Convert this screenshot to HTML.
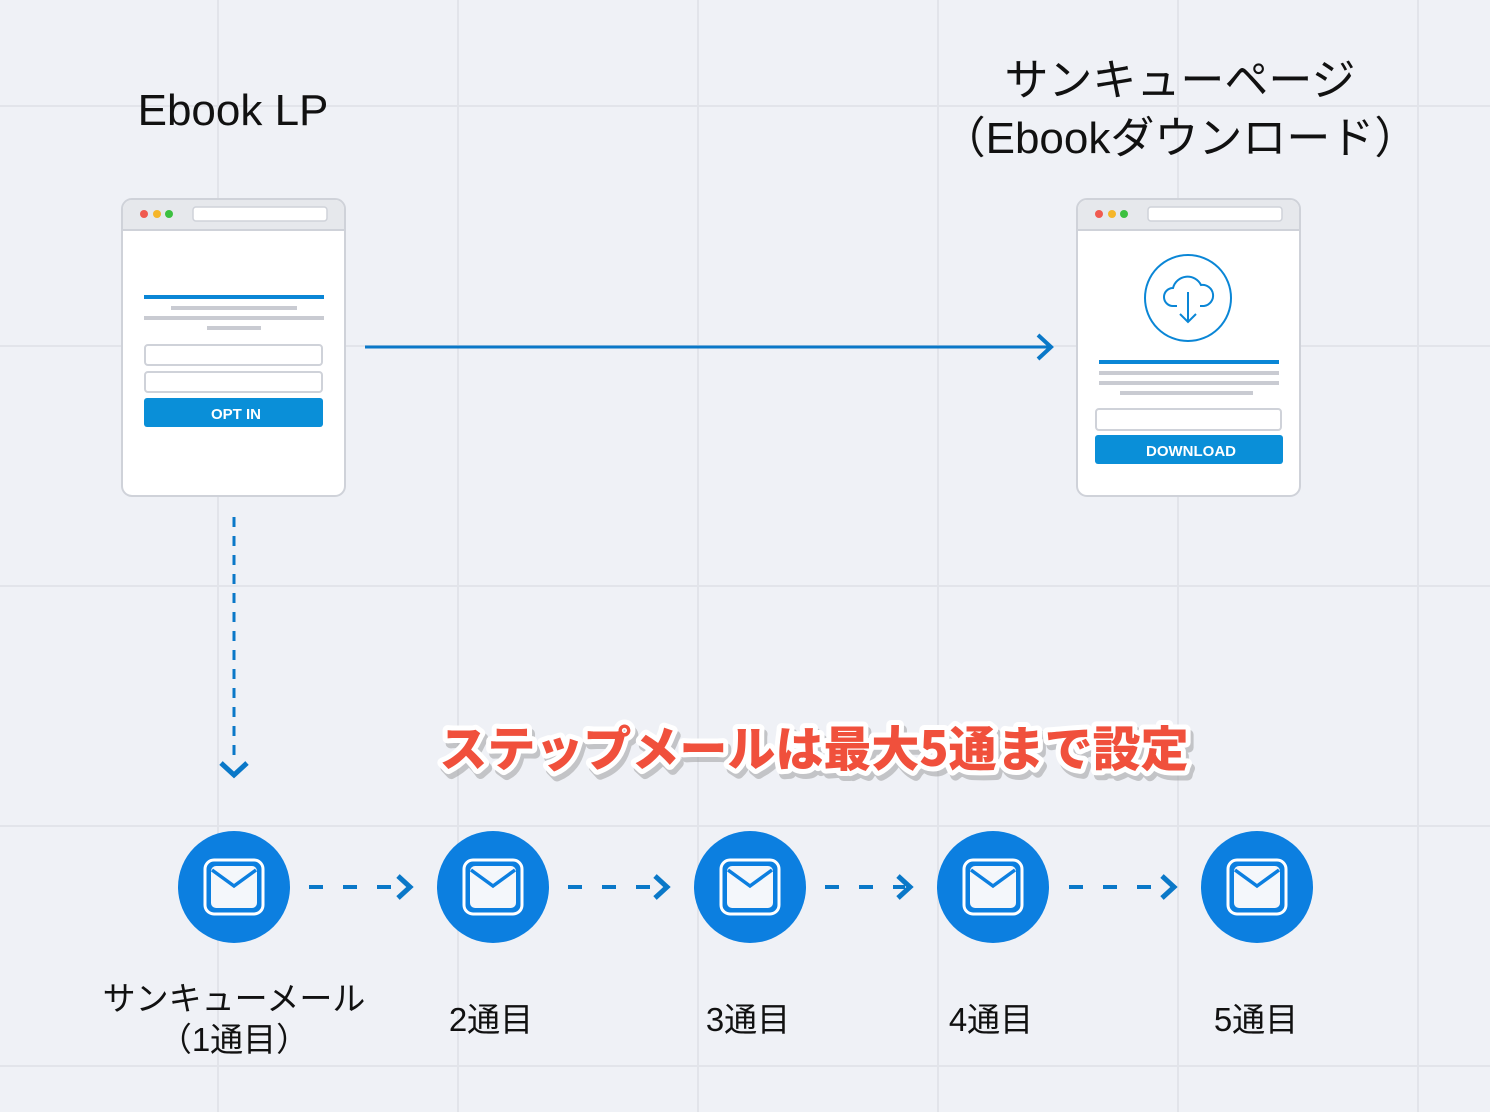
<!DOCTYPE html>
<html><head><meta charset="utf-8"><style>
body{margin:0;width:1490px;height:1112px;background:#eff1f6;overflow:hidden;font-family:"Liberation Sans","Noto Sans CJK JP",sans-serif;}
</style></head><body>
<svg width="1490" height="1112" xmlns="http://www.w3.org/2000/svg" style="position:absolute;left:0;top:0">
<g stroke="#e2e4ea" stroke-width="2">
<line x1="218" y1="0" x2="218" y2="1112"/><line x1="458" y1="0" x2="458" y2="1112"/><line x1="698" y1="0" x2="698" y2="1112"/><line x1="938" y1="0" x2="938" y2="1112"/><line x1="1178" y1="0" x2="1178" y2="1112"/><line x1="1418" y1="0" x2="1418" y2="1112"/>
<line x1="0" y1="106" x2="1490" y2="106"/><line x1="0" y1="346" x2="1490" y2="346"/><line x1="0" y1="586" x2="1490" y2="586"/><line x1="0" y1="826" x2="1490" y2="826"/><line x1="0" y1="1066" x2="1490" y2="1066"/>
</g>
<g font-family="Liberation Sans, Noto Sans CJK JP, sans-serif" fill="#111">
<text x="233" y="125" font-size="44" text-anchor="middle">Ebook LP</text>
<text x="1180" y="95" font-size="44" text-anchor="middle">サンキューページ</text>
<text x="1180" y="153" font-size="44" text-anchor="middle">（Ebookダウンロード）</text>
</g>
<rect x="122" y="199" width="223" height="297" rx="10" fill="#fff" stroke="#cfd2d9" stroke-width="2"/>
<path d="M123 230 V209 a9 9 0 0 1 9-9 H335 a9 9 0 0 1 9 9 V230 Z" fill="#e6e8ec"/>
<line x1="123" y1="230" x2="344" y2="230" stroke="#cfd2d9" stroke-width="2"/>
<circle cx="144" cy="214" r="4" fill="#f05a50"/><circle cx="157" cy="214" r="4" fill="#f5b62a"/><circle cx="169" cy="214" r="4" fill="#3cc040"/>
<rect x="193" y="207" width="134" height="14" rx="3" fill="#fff" stroke="#cfd2d9" stroke-width="1.5"/>
<rect x="144" y="295" width="180" height="4" fill="#0a86d6"/>
<rect x="171" y="306" width="126" height="4" fill="#c9cbd2"/>
<rect x="144" y="316" width="180" height="4" fill="#c9cbd2"/>
<rect x="207" y="326" width="54" height="4" fill="#c9cbd2"/>
<rect x="145" y="345" width="177" height="20" rx="3" fill="#fff" stroke="#cfd2d9" stroke-width="2"/>
<rect x="145" y="372" width="177" height="20" rx="3" fill="#fff" stroke="#cfd2d9" stroke-width="2"/>
<rect x="144" y="398" width="179" height="29" rx="3" fill="#0a8fd8"/>
<text x="236" y="419" font-size="15" font-weight="bold" fill="#fff" text-anchor="middle" font-family="Liberation Sans, sans-serif">OPT IN</text>
<rect x="1077" y="199" width="223" height="297" rx="10" fill="#fff" stroke="#cfd2d9" stroke-width="2"/>
<path d="M1078 230 V209 a9 9 0 0 1 9-9 H1290 a9 9 0 0 1 9 9 V230 Z" fill="#e6e8ec"/>
<line x1="1078" y1="230" x2="1299" y2="230" stroke="#cfd2d9" stroke-width="2"/>
<circle cx="1099" cy="214" r="4" fill="#f05a50"/><circle cx="1112" cy="214" r="4" fill="#f5b62a"/><circle cx="1124" cy="214" r="4" fill="#3cc040"/>
<rect x="1148" y="207" width="134" height="14" rx="3" fill="#fff" stroke="#cfd2d9" stroke-width="1.5"/>
<circle cx="1188" cy="298" r="43" fill="none" stroke="#0a86d6" stroke-width="2"/>
<path d="M1177 306 h-4 a9 9 0 0 1 0-18 a15 15 0 0 1 28-3 a10 10 0 0 1 3 21 h-4" fill="none" stroke="#0a86d6" stroke-width="2"/>
<path d="M1188 292 V322 M1180 314 L1188 322 L1196 314" fill="none" stroke="#0a86d6" stroke-width="2"/>
<rect x="1099" y="360" width="180" height="4" fill="#0a86d6"/>
<rect x="1099" y="371" width="180" height="4" fill="#c9cbd2"/>
<rect x="1099" y="381" width="180" height="4" fill="#c9cbd2"/>
<rect x="1120" y="391" width="133" height="4" fill="#c9cbd2"/>
<rect x="1096" y="409" width="185" height="21" rx="3" fill="#fff" stroke="#cfd2d9" stroke-width="2"/>
<rect x="1095" y="435" width="188" height="29" rx="3" fill="#0a8fd8"/>
<text x="1191" y="456" font-size="15" font-weight="bold" fill="#fff" text-anchor="middle" font-family="Liberation Sans, sans-serif">DOWNLOAD</text>
<line x1="365" y1="347" x2="1050" y2="347" stroke="#0a78c8" stroke-width="3"/>
<path d="M1038 335 L1051 347 L1038 359" fill="none" stroke="#0a78c8" stroke-width="4"/>
<line x1="234" y1="517" x2="234" y2="758" stroke="#0a78c8" stroke-width="3" stroke-dasharray="10 9"/>
<path d="M221 763 L234 775 L247 763" fill="none" stroke="#0a78c8" stroke-width="5"/>
<g stroke="#0a78c8" stroke-width="4" fill="none">
<line x1="309" y1="887" x2="405" y2="887" stroke-dasharray="14 20"/><path d="M398 876 L410 887 L398 898" stroke-width="5"/>
<line x1="568" y1="887" x2="663" y2="887" stroke-dasharray="14 20"/><path d="M655 876 L667 887 L655 898" stroke-width="5"/>
<line x1="825" y1="887" x2="905" y2="887" stroke-dasharray="14 20"/><path d="M898 876 L910 887 L898 898" stroke-width="5"/>
<line x1="1069" y1="887" x2="1170" y2="887" stroke-dasharray="14 20"/><path d="M1162 876 L1174 887 L1162 898" stroke-width="5"/>
</g>
<defs><g id="m"><circle r="56" fill="#0c7fe0"/><rect x="-29" y="-27" width="58" height="54" rx="9" fill="none" stroke="#fff" stroke-width="3"/><rect x="-23" y="-21" width="46" height="42" rx="5" fill="#f4f7fb"/><path d="M-22 -17 L0 -1 L22 -17" fill="none" stroke="#0c7fe0" stroke-width="3.5"/></g></defs>
<use href="#m" x="234" y="887"/><use href="#m" x="493" y="887"/><use href="#m" x="750" y="887"/><use href="#m" x="993" y="887"/><use href="#m" x="1257" y="887"/>
<g font-family="Liberation Sans, Noto Sans CJK JP, sans-serif" font-size="33" fill="#111" text-anchor="middle">
<text x="234" y="1010">サンキューメール</text>
<text x="234" y="1051">（1通目）</text>
<text x="491" y="1031">2通目</text>
<text x="748" y="1031">3通目</text>
<text x="991" y="1031">4通目</text>
<text x="1256" y="1031">5通目</text>
</g>
<g font-family="Noto Sans CJK JP, sans-serif" font-size="48" font-weight="900" text-anchor="middle">
<text x="817" y="771" fill="#999" opacity="0.5" stroke="#999" stroke-width="10" stroke-linejoin="round">ステップメールは最大5通まで設定</text>
<text x="814" y="766" fill="#fff" stroke="#fff" stroke-width="10" stroke-linejoin="round">ステップメールは最大5通まで設定</text>
<text x="814" y="766" fill="#f0503c">ステップメールは最大5通まで設定</text>
</g>
</svg>
</body></html>
